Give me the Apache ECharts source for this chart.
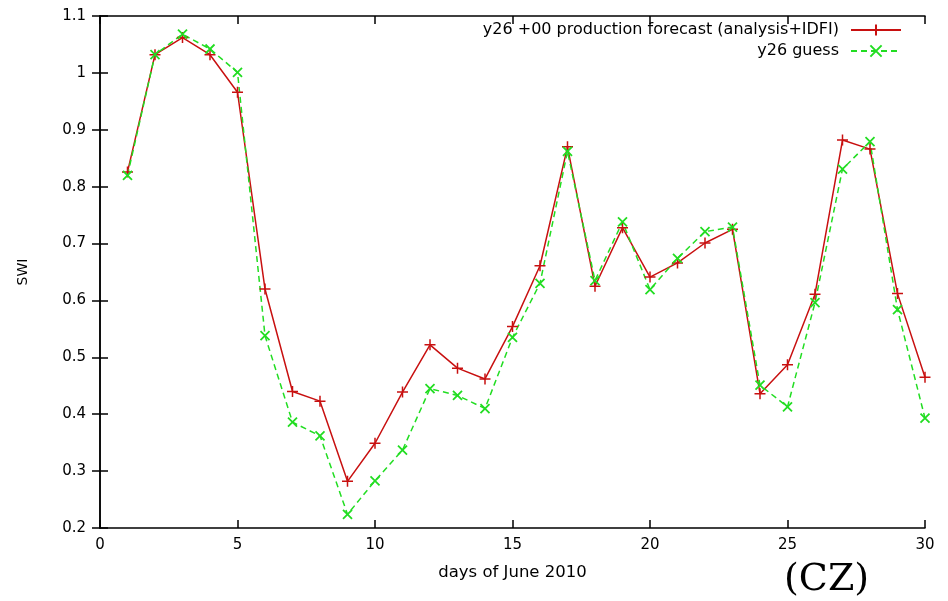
<!DOCTYPE html>
<html>
<head>
<meta charset="utf-8">
<script src="https://cdn.jsdelivr.net/npm/echarts@6/dist/echarts.min.js"></script>
<style>
  html, body { margin: 0; padding: 0; background: #fff; }
  #chart { width: 948px; height: 601px; }
</style>
</head>
<body>
<div id="chart"></div>
<script>
// days of June 2010
var days = [1,2,3,4,5,6,7,8,9,10,11,12,13,14,15,16,17,18,19,20,21,22,23,24,25,26,27,28,29,30];
// y26 +00 production forecast (analysis+IDFI)
var forecast = [0.826,1.032,1.062,1.032,0.966,0.620,0.440,0.423,0.282,0.349,0.439,0.522,0.481,0.462,0.554,
                0.661,0.870,0.625,0.728,0.641,0.666,0.701,0.725,0.436,0.487,0.611,0.882,0.866,0.612,0.465];
// y26 guess
var guess = [0.820,1.032,1.068,1.042,1.001,0.538,0.386,0.362,0.224,0.283,0.337,0.445,0.433,0.410,0.535,
             0.630,0.862,0.635,0.738,0.619,0.674,0.721,0.729,0.451,0.413,0.596,0.831,0.879,0.584,0.393];

var names = ['y26 +00 production forecast (analysis+IDFI)', 'y26 guess'];

function pairs(vals) {
    return days.map(function (d, i) { return [d, vals[i]]; });
}

var myChart = echarts.init(document.getElementById('chart'));

var font = '"DejaVu Sans", "Liberation Sans", sans-serif';
var plus = 'path://M5,0L5,10M0,5L10,5';
var cross = 'path://M0,0L10,10M0,10L10,0';

var axisCommon = {
    axisLine: { show: true, lineStyle: { color: '#000', width: 1.5 } },
    axisTick: { show: true, inside: true, length: 8, lineStyle: { color: '#000', width: 1.5 } },
    splitLine: { show: false }
};

var option = {
    animation: false,
    grid: { left: 100, right: 23, top: 16, bottom: 73 },
    legend: {
        orient: 'vertical',
        right: 46,
        top: 22,
        padding: 0,
        align: 'right',
        itemWidth: 50,
        itemHeight: 14,
        itemGap: 5,
        textStyle: { fontFamily: font, fontSize: 16, color: '#000', padding: [0, 7, 0, 0] },
        data: names
    },
    xAxis: [
        Object.assign({
            type: 'value', min: 0, max: 30, interval: 5, position: 'bottom',
            name: 'days of June 2010', nameLocation: 'middle', nameGap: 36,
            nameTextStyle: { fontFamily: font, fontSize: 16.5, color: '#000' },
            axisLabel: { fontFamily: font, fontSize: 15, color: '#000', margin: 10 }
        }, axisCommon),
        Object.assign({
            type: 'value', min: 0, max: 30, interval: 5, position: 'top',
            axisLabel: { show: false }
        }, axisCommon)
    ],
    yAxis: [
        Object.assign({
            type: 'value', min: 0.2, max: 1.1, interval: 0.1, position: 'left',
            name: 'SWI', nameLocation: 'middle', nameGap: 70,
            nameTextStyle: { fontFamily: font, fontSize: 14, color: '#000' },
            axisLabel: { fontFamily: font, fontSize: 15, color: '#000', margin: 14 }
        }, axisCommon),
        Object.assign({
            type: 'value', min: 0.2, max: 1.1, interval: 0.1, position: 'right',
            axisLabel: { show: false }
        }, axisCommon)
    ],
    graphic: [{
        type: 'text',
        left: 784,
        top: 561,
        style: { text: '(CZ)', font: '38px "DejaVu Serif", "Liberation Serif", serif', fill: '#000' }
    }],
    series: [
        {
            name: names[0],
            type: 'line',
            xAxisIndex: 0, yAxisIndex: 0,
            data: pairs(forecast),
            symbol: plus,
            symbolSize: 11,
            lineStyle: { color: '#c81010', width: 1.5 },
            itemStyle: { color: '#c81010', borderColor: '#c81010', borderWidth: 1.5 }
        },
        {
            name: names[1],
            type: 'line',
            xAxisIndex: 0, yAxisIndex: 0,
            data: pairs(guess),
            symbol: cross,
            symbolSize: 9,
            lineStyle: { color: '#22dd22', width: 1.5, type: [6, 4] },
            itemStyle: { color: '#22dd22', borderColor: '#22dd22', borderWidth: 1.8 }
        }
    ]
};

myChart.setOption(option);
</script>
</body>
</html>
